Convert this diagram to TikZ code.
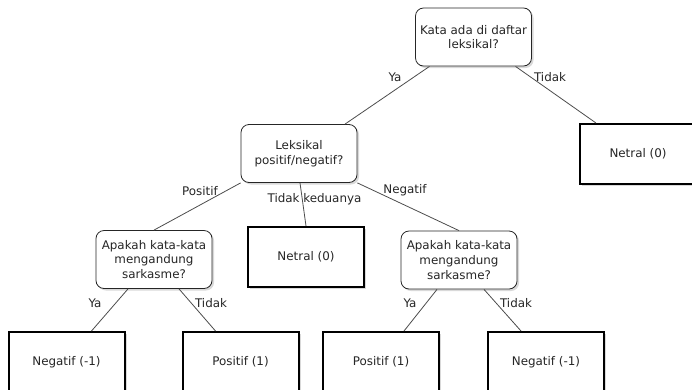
\documentclass[tikz,border=0pt]{standalone}
\usepackage{fontspec}
\setmainfont{DejaVu Sans}
\usetikzlibrary{shadows}

\begin{document}
\begin{tikzpicture}[x=1pt, y=-1pt,
    tanya/.style={draw=black!85, rounded corners=8pt, line width=0.8pt, fill=white,
        minimum width=116pt, minimum height=58pt, align=center, inner sep=2pt,
        text=black!85, font=\fontsize{11.9}{14.6}\selectfont,
        drop shadow={shadow xshift=2pt, shadow yshift=-2pt, opacity=0.3}},
    hasil/.style={draw=black, line width=2pt, fill=white,
        minimum width=116pt, minimum height=60pt,
        text=black!85, font=\fontsize{11.9}{14.6}\selectfont,
        drop shadow={shadow xshift=2pt, shadow yshift=-2pt, opacity=0.3}},
    garis/.style={draw=black!70, line width=0.8pt},
    ket/.style={text=black!85, font=\fontsize{11.9}{14.6}\selectfont, inner sep=0pt}]

    % Ukuran gambar (piksel)
    \useasboundingbox (0,0) rectangle (692,389);

    % Simpul pertanyaan
    \node[tanya] (root) at (473.5,37) {Kata ada di daftar\\leksikal?};
    \node[tanya] (leks) at (299,153.5) {Leksikal\\positif/negatif?};
    \node[tanya] (sarkA) at (154,259.5) {Apakah kata-kata\\mengandung\\sarkasme?};
    \node[tanya] (sarkB) at (459,260) {Apakah kata-kata\\mengandung\\sarkasme?};

    % Simpul hasil
    \node[hasil] (netR) at (638,154) {Netral (0)};
    \node[hasil] (netM) at (306,257) {Netral (0)};
    \foreach \nm/\x/\txt in {negA/66.5/{Negatif (-1)}, posA/240.5/{Positif (1)},
                             posB/381/{Positif (1)}, negB/546/{Negatif (-1)}} {
        \node[hasil] (\nm) at (\x,362) {\txt};
    }

    % Garis dari akar
    \draw[garis] ([xshift=-44pt]root.south) -- ([xshift=46pt]leks.north);
    \draw[garis] ([xshift=42pt]root.south) -- ([xshift=-42pt]netR.north);

    % Garis dari leksikal
    \draw[garis] (leks.south west) -- (sarkA.north);
    \draw[garis] ([xshift=1pt]leks.south) -- (netM.north);
    \draw[garis] (leks.south east) -- (sarkB.north);

    % Garis ke daun
    \draw[garis] ([xshift=-26pt]sarkA.south) -- ([xshift=25pt]negA.north);
    \draw[garis] ([xshift=25pt]sarkA.south) -- ([xshift=-25pt]posA.north);
    \draw[garis] ([xshift=-22pt]sarkB.south) -- ([xshift=23pt]posB.north);
    \draw[garis] ([xshift=25pt]sarkB.south) -- ([xshift=-25pt]negB.north);

    % Keterangan cabang
    \node[ket] (kYa) at (395,77) {Ya};
    \node[ket] (kTidak) at (550,77) {Tidak};
    \node[ket] (kPos) at (200,191) {Positif};
    \node[ket] (kKed) at (314.5,199) {Tidak keduanya};
    \node[ket] (kNeg) at (405,190) {Negatif};
    \foreach \nm/\x/\txt in {kYaA/95/Ya, kTidakA/211/Tidak, kYaB/410/Ya, kTidakB/516/Tidak} {
        \node[ket] (\nm) at (\x,303) {\txt};
    }
\end{tikzpicture}
\end{document}
